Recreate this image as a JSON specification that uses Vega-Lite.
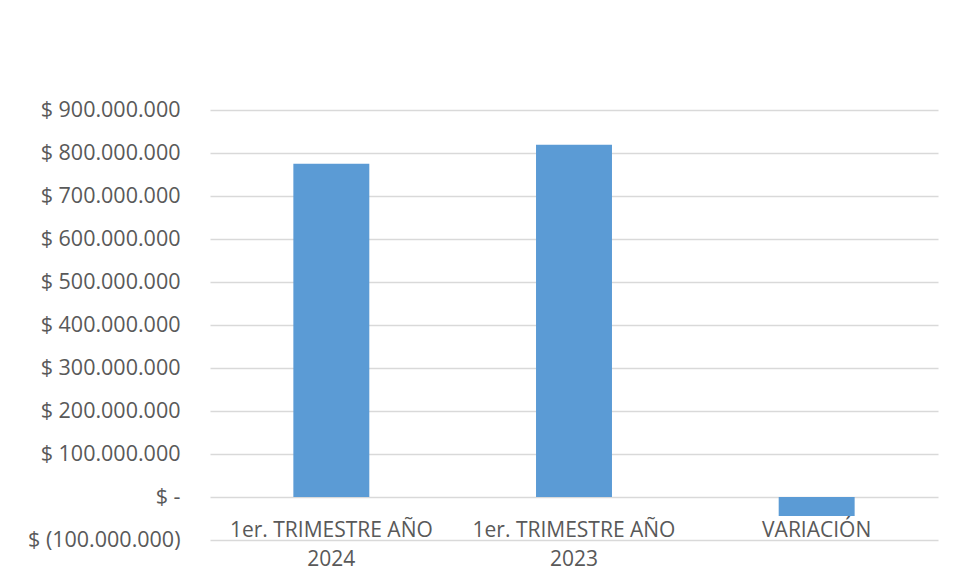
{
  "$schema": "https://vega.github.io/schema/vega-lite/v6.json",
  "autosize": {"type": "none"},
  "width": 728,
  "height": 430,
  "padding": {"left": 210, "top": 110, "right": 20, "bottom": 43},
  "background": "#ffffff",
  "config": {
    "view": {"stroke": null},
    "font": "Open Sans"
  },
  "data": {
    "values": [
      {"periodo": "1er. TRIMESTRE AÑO 2024", "valor": 775000000},
      {"periodo": "1er. TRIMESTRE AÑO 2023", "valor": 819000000},
      {"periodo": "VARIACIÓN", "valor": -44000000}
    ]
  },
  "mark": {"type": "bar", "color": "#5b9bd5"},
  "encoding": {
    "x": {
      "field": "periodo",
      "type": "nominal",
      "sort": null,
      "scale": {"paddingInner": 0.687, "paddingOuter": 0.3435},
      "axis": {
        "title": null,
        "orient": "bottom",
        "offset": -43,
        "domain": false,
        "ticks": false,
        "labelAngle": 0,
        "labelLimit": 0,
        "labelFont": "Open Sans",
        "labelFontSize": 21,
        "labelColor": "#595959",
        "labelPadding": 22,
        "labelLineHeight": 29,
        "labelExpr": "datum.value == 'VARIACIÓN' ? datum.value : [slice(datum.value, 0, -5), slice(datum.value, -4)]"
      }
    },
    "y": {
      "field": "valor",
      "type": "quantitative",
      "scale": {"domain": [-100000000, 900000000], "nice": false, "zero": false},
      "axis": {
        "title": null,
        "values": [-100000000, 0, 100000000, 200000000, 300000000, 400000000, 500000000, 600000000, 700000000, 800000000, 900000000],
        "domain": false,
        "ticks": false,
        "grid": true,
        "gridColor": "#d9d9d9",
        "gridWidth": 1.5,
        "labelLimit": 0,
        "labelFont": "Open Sans",
        "labelFontSize": 21.5,
        "labelColor": "#595959",
        "labelPadding": 30,
        "labelExpr": "datum.value == 0 ? '$ -\u00a0\u00a0\u00a0' : (datum.value < 0 ? '$ (' + replace(format(-datum.value, ',.0f'), regexp(',', 'g'), '.') + ')' : '$ ' + replace(format(datum.value, ',.0f'), regexp(',', 'g'), '.') + '\u00a0')"
      }
    }
  }
}
